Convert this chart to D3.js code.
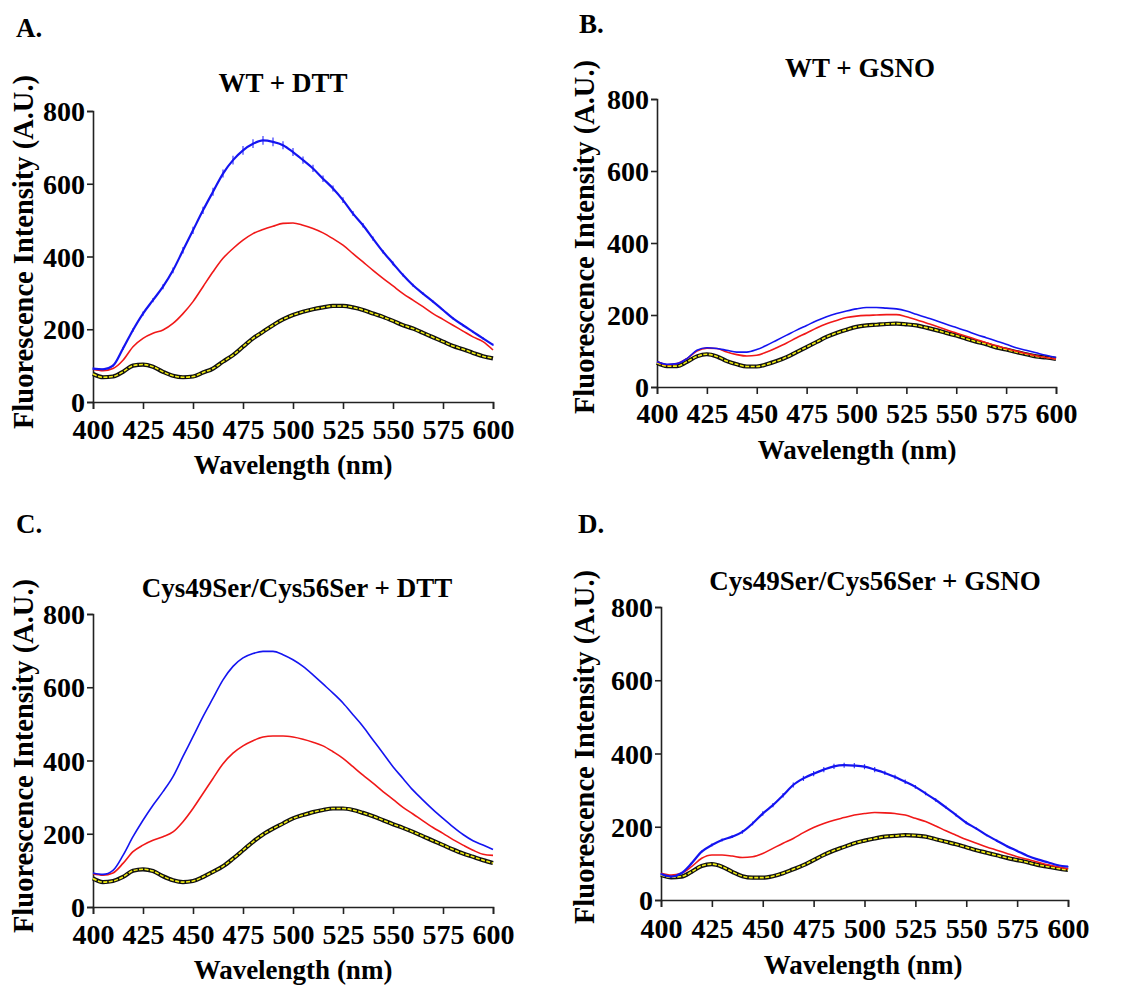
<!DOCTYPE html>
<html><head><meta charset="utf-8">
<script src="https://cdn.jsdelivr.net/npm/d3@7"></script>
<style>
html,body{margin:0;padding:0;background:#fff;}
svg text{font-family:"Liberation Serif","Times New Roman",serif;font-weight:bold;fill:#000;}
</style></head>
<body>
<svg id="chart" width="1139" height="985"></svg>
<script>
// ---------- data ----------
const wavelengths = d3.range(400, 601, 5); // 400..600 nm, 41 points
const xTicks = [400, 425, 450, 475, 500, 525, 550, 575, 600];
const yTicks = [0, 200, 400, 600, 800];
const panelLetters = ["A.", "B.", "C.", "D."];
const panelTitles = ["WT + DTT", "WT + GSNO", "Cys49Ser/Cys56Ser + DTT", "Cys49Ser/Cys56Ser + GSNO"];
const xAxisTitle = "Wavelength (nm)";
const yAxisTitle = "Fluorescence Intensity (A.U.)";

// Panel A (WT + DTT)
const A_blue  = [92,90,100,147,198,243,280,317,362,417,472,527,578,628,665,692,710,719,715,706,687,665,642,614,587,555,518,486,449,413,381,349,321,298,276,253,230,211,193,175,157];
const A_blueErr = [3,3,3,4,5,6,6,7,8,9,10,10,11,11,12,12,12,12,12,11,11,10,10,9,8,8,7,6,6,5,5,4,4,4,3,3,3,3,3,3,3];
const A_red   = [90,86,92,115,152,175,189,198,216,243,276,317,358,395,422,445,463,474,483,491,492,486,477,465,449,431,408,385,362,340,319,298,280,262,243,227,211,195,179,166,143];
const A_black = [77,68,70,83,100,103,97,83,72,68,70,81,92,111,129,152,175,193,211,227,239,248,255,260,264,264,260,253,243,234,223,211,202,190,178,166,154,145,135,126,120];
const A_yellow = [77,68,70,83,100,103,97,83,72,68,70,81,92,111,129,152,175,193,211,227,239,248,255,260,264,264,260,253,243,234,223,211,202,190,178,166,154,145,135,126,120];

// Panel B (WT + GSNO)
const B_blue  = [70,63,65,79,102,109,107,102,97,97,104,116,130,144,158,171,184,195,204,211,217,221,221,219,217,211,202,193,184,174,165,156,146,137,128,119,109,102,95,88,82];
const B_red   = [70,62,65,79,100,108,107,97,90,86,88,97,109,122,137,150,164,176,185,193,197,199,200,201,201,195,187,178,169,159,150,141,132,123,115,107,100,93,87,82,78];
const B_black = [67,58,58,70,85,91,85,72,63,57,57,63,72,83,97,111,125,139,150,159,167,171,173,175,176,174,171,165,158,150,143,134,126,119,110,104,97,91,85,82,78];
const B_yellow = [67,58,58,70,85,91,85,72,63,57,57,63,72,83,97,111,125,139,150,159,167,171,173,175,176,174,171,165,158,150,143,134,126,119,110,104,97,91,85,82,78];

// Panel C (Cys49Ser/Cys56Ser + DTT)
const C_blue  = [93,89,100,141,192,237,278,315,356,411,465,520,570,620,657,680,692,698,698,689,675,657,634,609,584,557,525,493,456,420,383,351,319,292,266,242,219,198,181,169,157];
const C_red   = [91,87,93,119,151,169,182,192,205,233,269,310,351,391,420,440,454,464,467,467,464,458,450,440,424,406,383,360,338,315,294,272,254,235,217,201,184,169,155,144,141];
const C_black = [78,68,71,82,99,103,98,84,73,68,71,82,96,111,132,155,178,198,214,228,242,251,259,265,269,269,265,257,248,237,226,216,205,193,181,169,157,146,137,128,120];
const C_yellow = [78,68,71,82,99,103,98,84,73,68,71,82,96,111,132,155,178,198,214,228,242,251,259,265,269,269,265,257,248,237,226,216,205,193,181,169,157,146,137,128,120];

// Panel D (Cys49Ser/Cys56Ser + GSNO)
const D_blue  = [71,64,73,100,132,150,164,173,186,209,236,259,286,314,332,345,356,365,368,367,364,356,347,336,323,309,291,273,253,232,211,195,177,162,147,134,121,111,103,95,91];
const D_blueErr = [2,2,2,3,3,4,4,4,5,5,6,6,6,7,7,7,7,7,7,7,7,7,6,6,6,5,5,5,4,4,4,3,3,3,3,3,2,2,2,2,2];
const D_red   = [73,68,73,91,114,123,123,120,116,118,127,141,155,168,184,198,209,218,225,232,236,239,238,236,232,223,214,202,189,177,165,155,145,136,127,118,111,104,96,91,85];
const D_black = [68,62,64,77,93,98,91,77,65,61,61,65,73,84,95,109,123,135,145,155,162,168,173,175,177,176,173,166,159,152,144,136,129,122,115,109,103,96,91,86,82];
const D_yellow = [68,62,64,77,93,98,91,77,65,61,61,65,73,84,95,109,123,135,145,155,162,168,173,175,177,176,173,166,159,152,144,136,129,122,115,109,103,96,91,86,82];

// ---------- layout ----------
const panels = [
  {blue:A_blue, blueErr:A_blueErr, red:A_red, black:A_black, yellow:A_yellow,
   x0:93, x1:493, yT:111, yB:402, letter:[16,37], title:[283,92], yTitle:[33,252], xTickBase:439, xTitle:[293,474]},
  {blue:B_blue, blueErr:null, red:B_red, black:B_black, yellow:B_yellow,
   x0:657, x1:1056, yT:99, yB:387, letter:[579,33], title:[860,77], yTitle:[594,237], xTickBase:423, xTitle:[857,459]},
  {blue:C_blue, blueErr:null, red:C_red, black:C_black, yellow:C_yellow,
   x0:93, x1:493, yT:614, yB:907, letter:[16,533], title:[297,597], yTitle:[33,756], xTickBase:944, xTitle:[293,979]},
  {blue:D_blue, blueErr:D_blueErr, red:D_red, black:D_black, yellow:D_yellow,
   x0:661, x1:1068, yT:607, yB:900, letter:[578,533], title:[875,590], yTitle:[594,747], xTickBase:938, xTitle:[863,974]}
];

const FONT = '"Liberation Serif","Times New Roman",serif';
const svg = d3.select("#chart");

panels.forEach((p, i) => {
  const g = svg.append("g");
  const x = d3.scaleLinear().domain([400, 600]).range([p.x0, p.x1]);
  const y = d3.scaleLinear().domain([0, 800]).range([p.yB, p.yT]);

  // axes
  const xAxis = d3.axisBottom(x).tickValues(xTicks).tickSize(7).tickPadding(6).tickFormat(d3.format("d"));
  const yAxis = d3.axisLeft(y).tickValues(yTicks).tickSize(6).tickPadding(2).tickFormat(d3.format("d"));
  const gx = g.append("g").attr("transform", `translate(0,${p.yB})`).call(xAxis);
  const gy = g.append("g").attr("transform", `translate(${p.x0},0)`).call(yAxis);
  [gx, gy].forEach(a => {
    a.attr("font-family", null).attr("font-size", null);
    a.select(".domain").attr("stroke", "#222").attr("stroke-width", 1.6);
    a.selectAll(".tick line").attr("stroke", "#222").attr("stroke-width", 1.6);
    a.selectAll(".tick text").style("font-size", "28px").style("font-family", FONT)
      .style("font-weight", "bold").attr("fill", "#000");
  });
  gx.selectAll(".tick text").attr("y", null).attr("dy", null)
    .attr("transform", `translate(0,${p.xTickBase - p.yB})`);
  gy.selectAll(".tick text").attr("dy", "0.34em");

  const line = d3.line().x((d, j) => x(wavelengths[j])).y(d => y(d)).curve(d3.curveMonotoneX);

  // black + yellow dashed overlay
  g.append("path").datum(p.black).attr("d", line).attr("fill", "none")
    .attr("stroke", "#111").attr("stroke-width", 4.2);
  g.append("path").datum(p.yellow).attr("d", line).attr("fill", "none")
    .attr("stroke", "#f2ee10").attr("stroke-width", 1.6).attr("stroke-dasharray", "4,1.5");
  // red
  g.append("path").datum(p.red).attr("d", line).attr("fill", "none")
    .attr("stroke", "#f01818").attr("stroke-width", 1.6);
  // blue error bars
  if (p.blueErr) {
    g.append("g").selectAll("line").data(p.blue).join("line")
      .attr("x1", (d, j) => x(wavelengths[j])).attr("x2", (d, j) => x(wavelengths[j]))
      .attr("y1", (d, j) => y(d - p.blueErr[j])).attr("y2", (d, j) => y(d + p.blueErr[j]))
      .attr("stroke", "#3b3bff").attr("stroke-width", 1.2);
  }
  g.append("path").datum(p.blue).attr("d", line).attr("fill", "none")
    .attr("stroke", "#1414f0").attr("stroke-width", p.blueErr ? 2.2 : 1.6);

  // texts
  const txt = (sel, size) => sel.style("font-family", FONT).style("font-weight", "bold").style("font-size", size);
  txt(g.append("text").attr("x", p.letter[0]).attr("y", p.letter[1]).text(panelLetters[i]), "27px");
  txt(g.append("text").attr("x", p.title[0]).attr("y", p.title[1]).attr("text-anchor", "middle")
    .text(panelTitles[i]), "27px");
  txt(g.append("text").attr("transform", `translate(${p.yTitle[0]},${p.yTitle[1]}) rotate(-90)`)
    .attr("text-anchor", "middle").text(yAxisTitle), "28.5px");
  txt(g.append("text").attr("x", p.xTitle[0]).attr("y", p.xTitle[1]).attr("text-anchor", "middle")
    .text(xAxisTitle), "27px");
});
</script>
</body></html>
